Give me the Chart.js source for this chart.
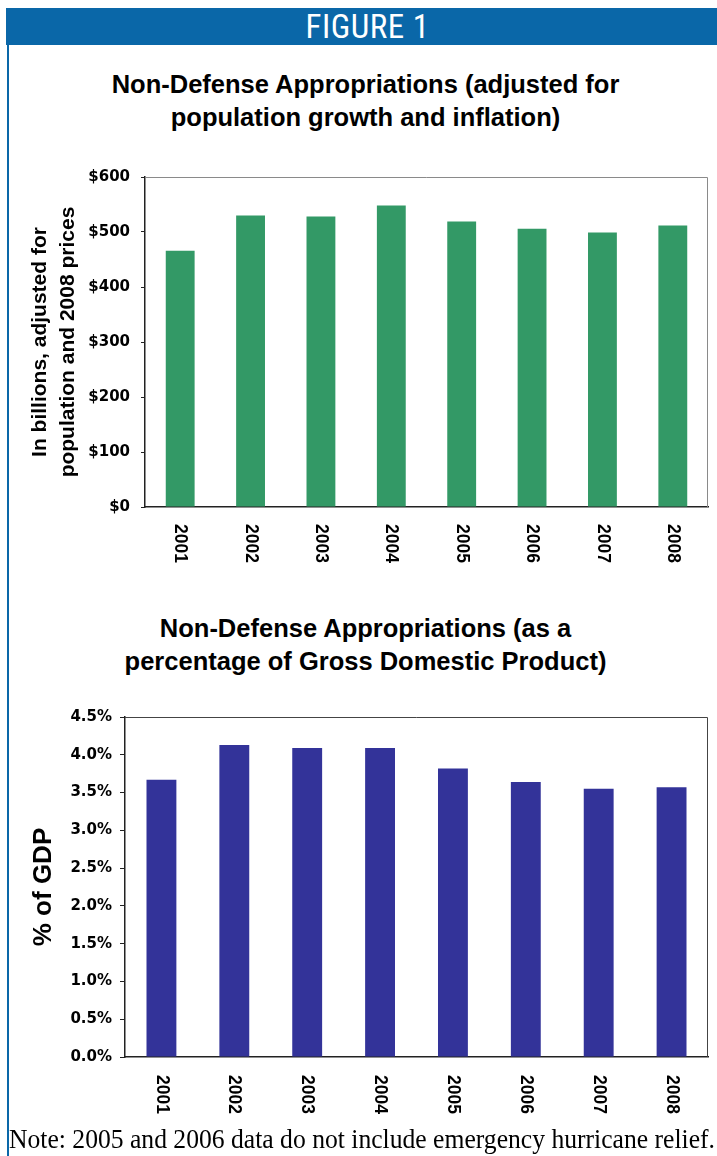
<!DOCTYPE html>
<html>
<head>
<meta charset="utf-8">
<script src="https://cdn.jsdelivr.net/npm/chart.js@4.4.1/dist/chart.umd.min.js"></script>
<style>
  html, body { margin:0; padding:0; background:#fff; }
  body { width:717px; height:1156px; position:relative; overflow:hidden; }
  #header { position:absolute; left:6px; top:8px; width:711px; height:37px; background:#0A67A8; color:#fff;
    font-family:"Liberation Sans Narrow","Roboto Condensed","Liberation Sans",Arial,sans-serif; font-size:33px;
    line-height:38px; text-align:center; letter-spacing:0.5px; box-sizing:border-box; padding-left:12px; }
  #leftline { position:absolute; left:7px; top:40px; width:2px; height:1116px; background:#0A67A8; }
  .title { position:absolute; left:10px; width:711px; text-align:center; color:#000;
    font-family:"Liberation Sans",Arial,sans-serif; font-weight:bold; font-size:25.5px; line-height:33px; }
  canvas { position:absolute; left:0; }
  #note { position:absolute; left:9px; top:1122px; white-space:nowrap; font-family:"Liberation Serif","Times New Roman",serif;
    font-size:28px; line-height:34px; color:#000; transform-origin:0 0; }
</style>
</head>
<body>
<div id="header">FIGURE 1</div>
<div id="leftline"></div>
<div class="title" style="top:68px;">Non-Defense Appropriations (adjusted for<br>population growth and inflation)</div>
<canvas id="c1" width="717" height="420" style="top:157px;"></canvas>
<div class="title" style="top:612px;">Non-Defense Appropriations (as a<br>percentage of Gross Domestic Product)</div>
<canvas id="c2" width="717" height="456" style="top:700px;"></canvas>
<div id="note">Note: 2005 and 2006 data do not include emergency hurricane relief.</div>
<script>
const years = ['2001','2002','2003','2004','2005','2006','2007','2008'];
const realBillions = [466, 530, 528, 548, 519, 506, 499, 512];
const pctGDP = [3.67, 4.13, 4.09, 4.09, 3.82, 3.64, 3.55, 3.57];
const topTickLabels = ['$0','$100','$200','$300','$400','$500','$600'];
const bottomTickLabels = ['0.0%','0.5%','1.0%','1.5%','2.0%','2.5%','3.0%','3.5%','4.0%','4.5%'];
const topAxisTitle = ['In billions, adjusted for', 'population and 2008 prices'];
const bottomAxisTitle = '% of GDP';

const frame = {
  id: 'frame',
  afterDatasetsDraw(chart, args, opts) {
    const {ctx, chartArea: a} = chart;
    ctx.save();
    ctx.strokeStyle = opts.color;
    ctx.lineWidth = 1;
    ctx.beginPath();
    ctx.moveTo(a.left, a.top + 0.5);
    ctx.lineTo(a.right - 0.5, a.top + 0.5);
    ctx.lineTo(a.right - 0.5, a.bottom);
    ctx.stroke();
    ctx.restore();
  }
};
const xLabels = {
  id: 'xLabels',
  afterDraw(chart, args, opts) {
    const {ctx, chartArea: a} = chart;
    const xs = chart.scales.x;
    ctx.save();
    ctx.fillStyle = '#000';
    ctx.font = 'bold 17.5px "Liberation Sans", Arial, sans-serif';
    ctx.textAlign = 'left';
    ctx.textBaseline = 'middle';
    chart.data.labels.forEach((lab, i) => {
      const x = xs.getPixelForValue(i);
      ctx.save();
      ctx.translate(x, a.bottom + opts.offset);
      ctx.rotate(Math.PI / 2);
      ctx.fillText(lab, 0, 0);
      ctx.restore();
    });
    ctx.restore();
  }
};

function makeChart(id, data, color, yMax, yStep, tickLabels, title, titleFont, titlePad, yW, xH, padTop, tickPad, tickLen, frameColor, labelOffset) {
  return new Chart(document.getElementById(id), {
    type: 'bar',
    data: { labels: years, datasets: [{ data: data, backgroundColor: color, borderWidth: 0,
      categoryPercentage: 1.0, barPercentage: 0.41 }] },
    options: {
      responsive: false, devicePixelRatio: 1, animation: false,
      layout: { padding: { top: padTop, right: 9, left: 0, bottom: 0 } },
      plugins: { legend: { display: false }, tooltip: { enabled: false },
        frame: { color: frameColor }, xLabels: { offset: labelOffset } },
      scales: {
        x: {
          grid: { display: false },
          border: { display: true, color: '#222', width: 1.5 },
          ticks: { display: false },
          afterFit(s) { s.height = xH; }
        },
        y: {
          min: 0, max: yMax,
          grid: { drawOnChartArea: false, drawTicks: true, tickLength: tickLen, color: '#222', lineWidth: 1 },
          border: { display: true, color: '#222', width: 1.5 },
          ticks: { stepSize: yStep, padding: tickPad, color: '#000',
            font: { family: '"DejaVu Sans", sans-serif', weight: 'bold', size: 15 },
            callback: (v, i) => tickLabels[i] },
          title: { display: true, text: title, color: '#000', font: titleFont, padding: titlePad },
          afterFit(s) { s.width = yW; }
        }
      }
    },
    plugins: [frame, xLabels]
  });
}

makeChart('c1', realBillions, '#339966', 600, 100, topTickLabels, topAxisTitle,
  { family: '"Liberation Sans", Arial, sans-serif', weight: 'bold', size: 21, lineHeight: 1.35 },
  { top: 26, bottom: 0 }, 145, 70, 12, 11, 4, '#8a8a8a', 17);

makeChart('c2', pctGDP, '#333399', 4.5, 0.5, bottomTickLabels, bottomAxisTitle,
  { family: '"Liberation Sans", Arial, sans-serif', weight: 'bold', size: 26, lineHeight: 1.2 },
  { top: 28, bottom: 0 }, 125, 99, 17, 8, 5, '#444', 18);

const note = document.getElementById('note');
const w = note.getBoundingClientRect().width;
note.style.transform = 'scaleX(' + (706 / w) + ')';
</script>
</body>
</html>
